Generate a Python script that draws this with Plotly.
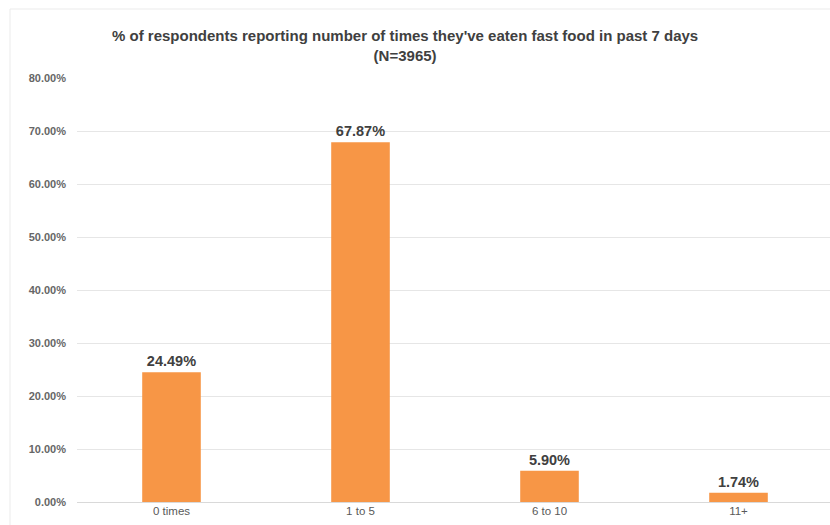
import plotly.graph_objects as go

categories = ["0 times", "1 to 5", "6 to 10", "11+"]
values = [24.49, 67.87, 5.90, 1.74]
labels = ["24.49%", "67.87%", "5.90%", "1.74%"]
y_ticks = [0, 10, 20, 30, 40, 50, 60, 70, 80]
y_ticklabels = ["0.00%", "10.00%", "20.00%", "30.00%", "40.00%", "50.00%", "60.00%", "70.00%", "80.00%"]

W, H = 830, 525
ML, MR, MT, MB = 77, 0, 78, 23
pw = W - ML - MR
ph = H - MT - MB

def px_x(px):
    return (px - ML) / pw

def px_y(py):
    return (H - MB - py) / ph

fig = go.Figure()
fig.add_trace(go.Bar(
    x=categories, y=values, text=labels, textposition="outside",
    marker=dict(color="#F79646", line=dict(width=0)),
    width=0.31,
    textfont=dict(family="Liberation Sans, Arial", size=14.5, color="#404040"),
    texttemplate="<b>%{text}</b>",
    cliponaxis=False,
    hoverinfo="skip",
))

fig.update_layout(
    width=W, height=H,
    margin=dict(l=ML, r=MR, t=MT, b=MB),
    paper_bgcolor="white", plot_bgcolor="white",
    showlegend=False,
    font=dict(family="Liberation Sans, Arial", color="#595959"),
    xaxis=dict(range=[-0.5, -0.5 + pw / 189.0], showgrid=False, showline=False,
               ticks="", tickfont=dict(size=11.5, color="#595959"), fixedrange=True),
    yaxis=dict(range=[0, 80], tickvals=y_ticks,
               ticktext=["<b>" + t + "</b>" for t in y_ticklabels],
               showgrid=True, gridcolor="#E6E6E6", gridwidth=1, zeroline=True,
               zerolinecolor="#D9D9D9", zerolinewidth=1, showline=False,
               tickfont=dict(size=11, color="#666666"), ticks="", ticklabelstandoff=10,
               fixedrange=True),
    annotations=[dict(
        text="<b>% of respondents reporting number of times they've eaten fast food in past 7 days<br>(N=3965)</b>",
        xref="paper", yref="paper", x=px_x(405), y=px_y(25), xanchor="center", yanchor="top",
        showarrow=False, align="center",
        font=dict(family="Liberation Sans, Arial", size=15, color="#404040"),
    )],
    shapes=[dict(type="rect", xref="paper", yref="paper",
                 x0=px_x(10), x1=px_x(840), y0=px_y(540), y1=px_y(9),
                 line=dict(color="#EBEBEB", width=1), layer="below")],
)

fig.write_html("out.html", config={"displayModeBar": False})

with open("out.html", "r", encoding="utf-8") as f:
    html = f.read()
html = html.replace("<head>", "<head><style>html,body{margin:0;padding:0;overflow:hidden;}</style>", 1)
with open("out.html", "w", encoding="utf-8") as f:
    f.write(html)
